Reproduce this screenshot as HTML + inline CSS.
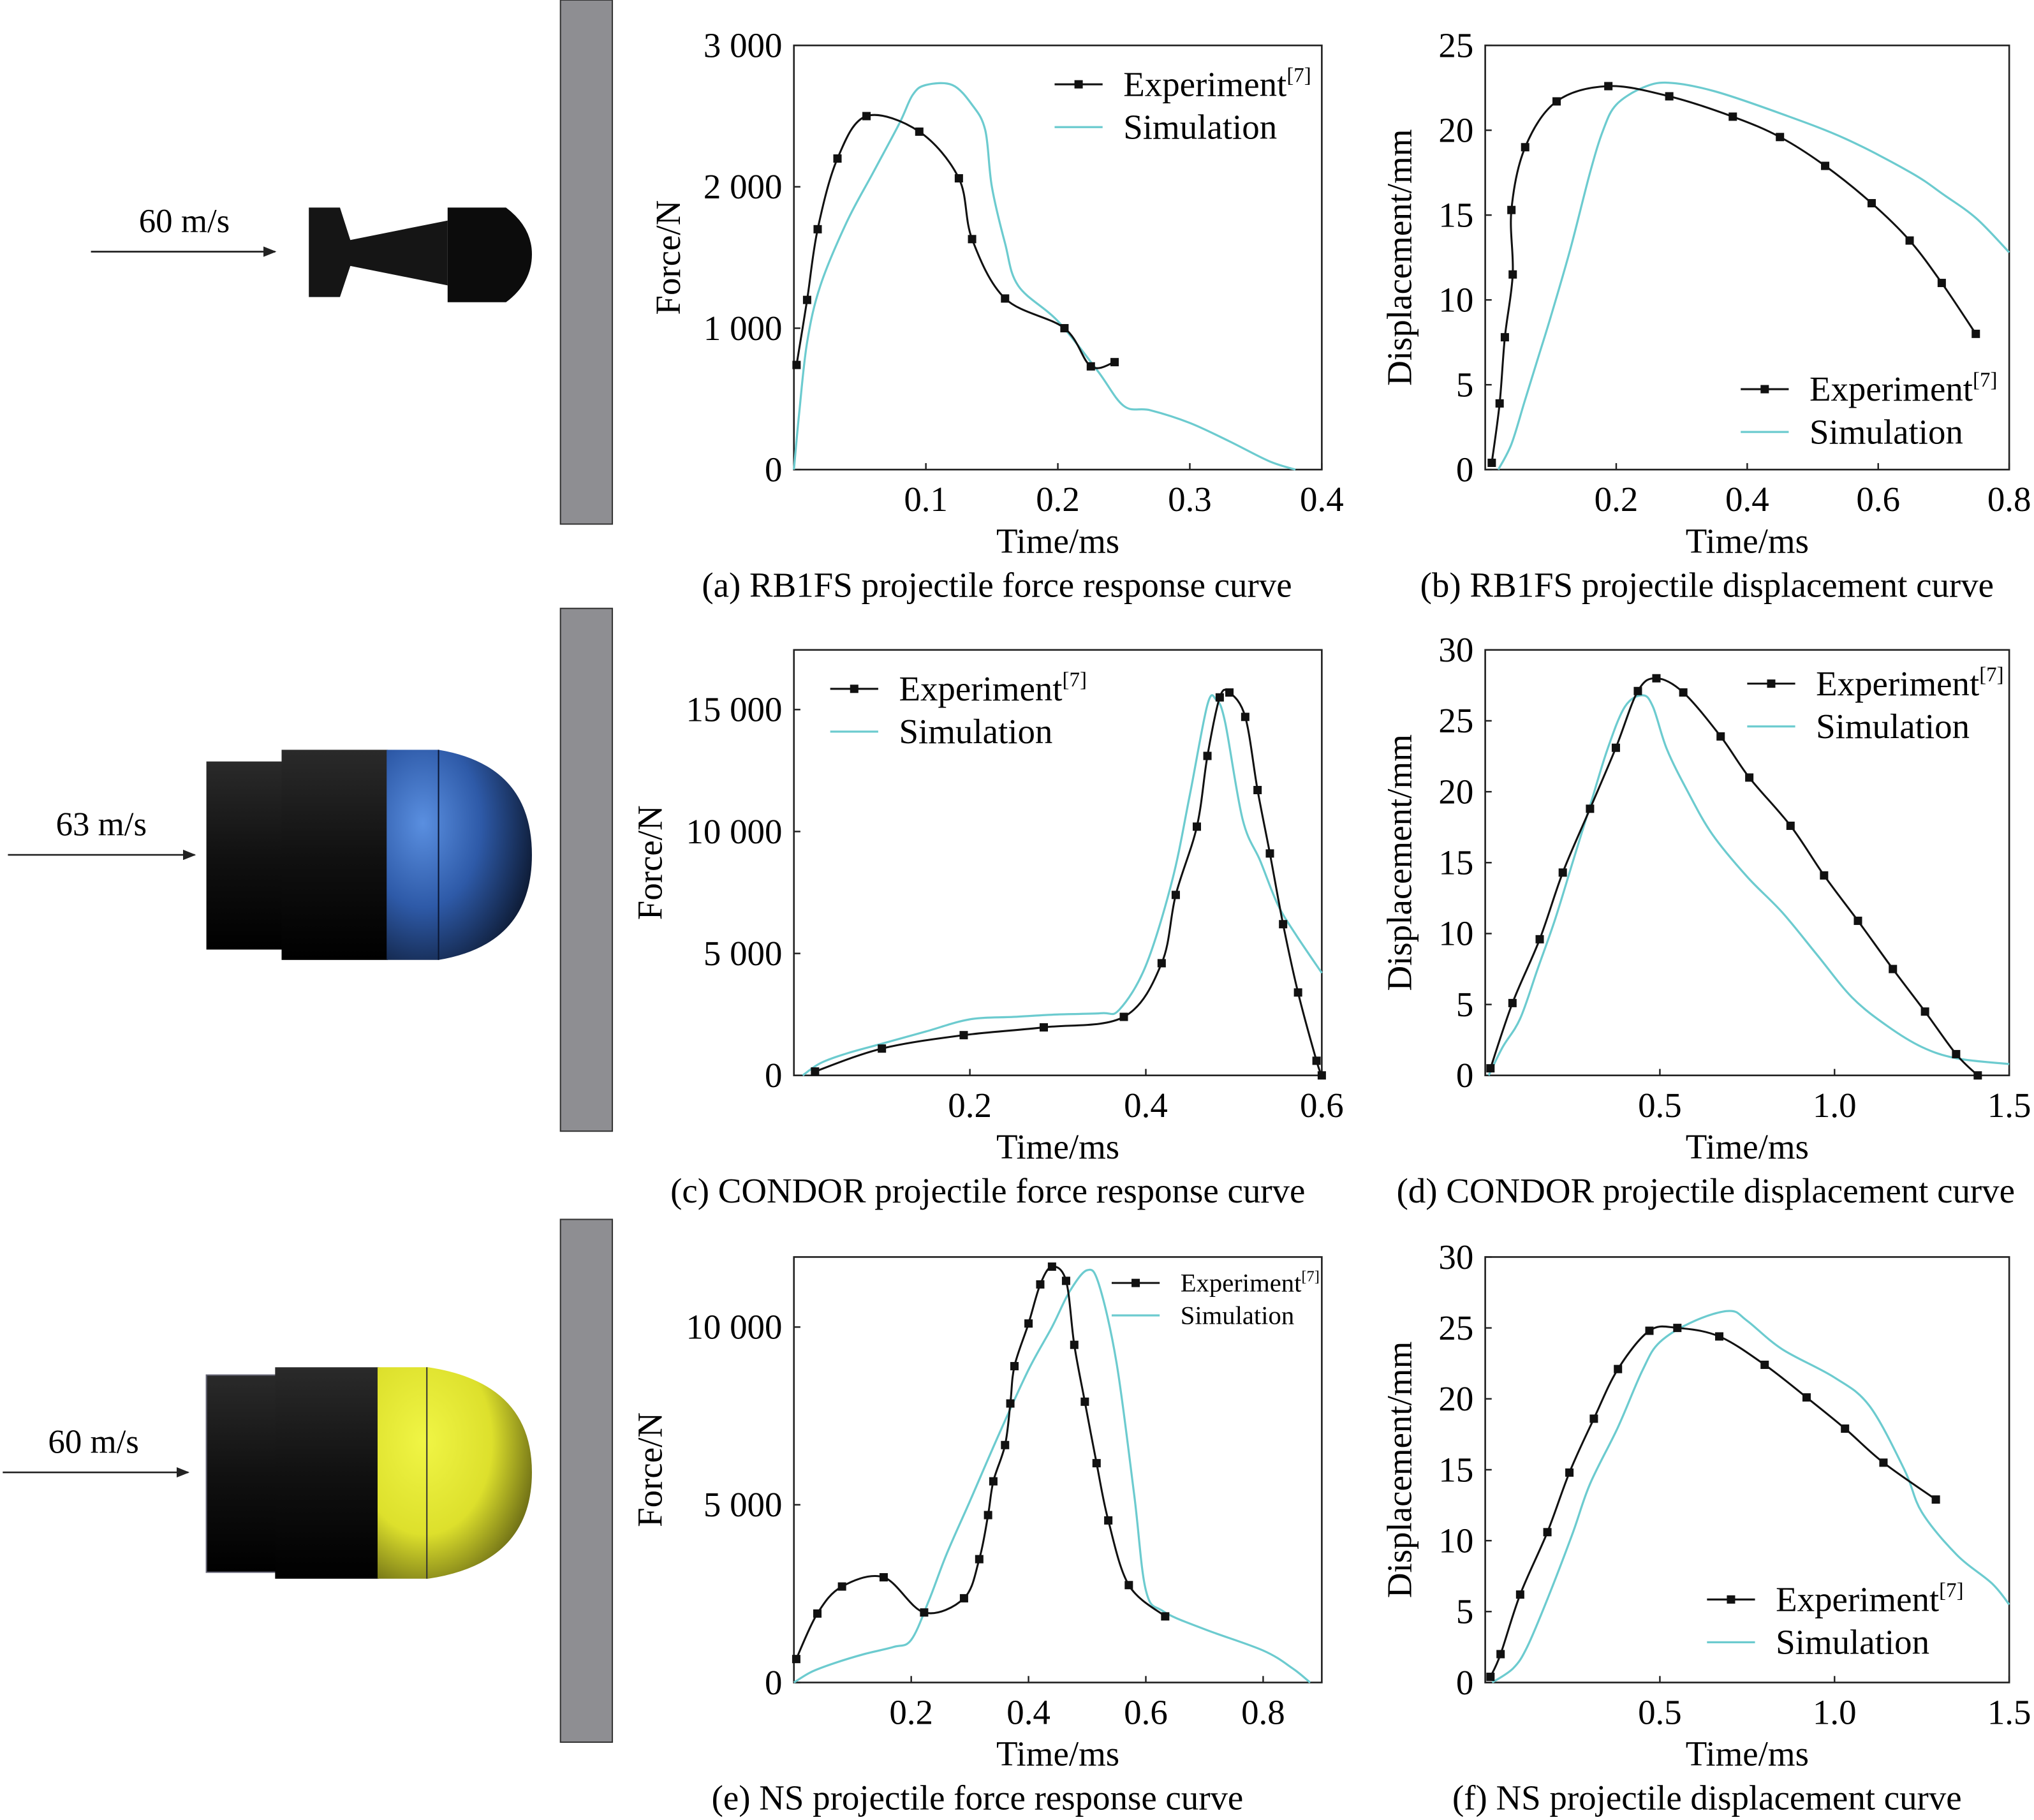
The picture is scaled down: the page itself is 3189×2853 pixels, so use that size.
<!DOCTYPE html>
<html><head><meta charset="utf-8"><style>
html,body{margin:0;padding:0;background:#fff;}
svg{display:block;font-family:"Liberation Serif",serif;}
</style></head><body>
<svg id="fig" width="3189" height="2853" viewBox="0 0 1568 1403" xmlns="http://www.w3.org/2000/svg">
<defs>
<marker id="arr" markerWidth="10" markerHeight="8" refX="9" refY="4" orient="auto" markerUnits="userSpaceOnUse"><path d="M0,0 L10,4 L0,8 z" fill="#222"/></marker>
<linearGradient id="gblack" x1="0" y1="0" x2="0" y2="1"><stop offset="0" stop-color="#2a2a2a"/><stop offset="0.5" stop-color="#111"/><stop offset="1" stop-color="#000"/></linearGradient>
<radialGradient id="gblue" cx="0.25" cy="0.35" r="0.8"><stop offset="0" stop-color="#5a8fe0"/><stop offset="0.5" stop-color="#2e5aa8"/><stop offset="1" stop-color="#0d1a33"/></radialGradient>
<radialGradient id="gyel" cx="0.3" cy="0.35" r="0.8"><stop offset="0" stop-color="#f0f545"/><stop offset="0.55" stop-color="#dde02c"/><stop offset="1" stop-color="#5a5a12"/></radialGradient>
</defs>
<g>
<rect x="432" y="0" width="40" height="404" fill="#8e8e92" stroke="#333" stroke-width="1"/>
<rect x="432" y="469" width="40" height="403" fill="#8e8e92" stroke="#333" stroke-width="1"/>
<rect x="432" y="940" width="40" height="403" fill="#8e8e92" stroke="#333" stroke-width="1"/>
<text x="142" y="179" font-size="26" text-anchor="middle">60 m/s</text>
<line x1="70" y1="194" x2="212" y2="194" stroke="#222" stroke-width="1.3" marker-end="url(#arr)"/>
<g>
<path d="M238,160 L262,160 L270,185 L345,170 L345,220 L270,205 L262,229 L238,229 z" fill="#151515"/>
<path d="M345,160 L390,160 Q410,175 410,196 Q410,218 390,233 L345,233 z" fill="#0c0c0c"/>
</g>
<text x="78" y="644" font-size="26" text-anchor="middle">63 m/s</text>
<line x1="6" y1="659" x2="150" y2="659" stroke="#222" stroke-width="1.3" marker-end="url(#arr)"/>
<g>
<rect x="159" y="587" width="60" height="145" fill="url(#gblack)"/>
<rect x="217" y="578" width="82" height="162" fill="url(#gblack)"/>
<path d="M298,578 L338,578 Q410,590 410,659 Q410,728 338,740 L298,740 z" fill="url(#gblue)"/>
<line x1="338" y1="578" x2="338" y2="740" stroke="#0a1530" stroke-width="1"/>
</g>
<text x="72" y="1120" font-size="26" text-anchor="middle">60 m/s</text>
<line x1="2" y1="1135" x2="145" y2="1135" stroke="#222" stroke-width="1.3" marker-end="url(#arr)"/>
<g>
<rect x="159" y="1060" width="55" height="152" fill="url(#gblack)" stroke="#667" stroke-width="1"/>
<rect x="212" y="1054" width="80" height="163" fill="url(#gblack)"/>
<path d="M291,1054 L330,1054 Q410,1066 410,1135 Q410,1205 330,1217 L291,1217 z" fill="url(#gyel)"/>
<line x1="329" y1="1054" x2="329" y2="1217" stroke="#333" stroke-width="1"/>
</g>
</g>
<g id="charts"></g>
</svg>
<script>
// ---- data ----
const aExpT=[0.002,0.01,0.018,0.033,0.055,0.095,0.125,0.135,0.16,0.205,0.225,0.243];
const aExpV=[740,1200,1700,2200,2500,2390,2060,1630,1210,1000,730,760];
const aSimT=[0,0.004,0.01,0.02,0.04,0.06,0.08,0.09,0.1,0.12,0.135,0.145,0.15,0.16,0.17,0.2,0.23,0.25,0.27,0.3,0.33,0.36,0.38];
const aSimV=[0,400,900,1300,1750,2100,2450,2650,2720,2720,2580,2400,2000,1600,1300,1050,700,450,420,330,200,60,0];
const bExpT=[0.01,0.022,0.03,0.042,0.04,0.061,0.109,0.188,0.281,0.378,0.45,0.519,0.59,0.648,0.697,0.749];
const bExpV=[0.4,3.9,7.8,11.5,15.3,19,21.7,22.6,22,20.8,19.6,17.9,15.7,13.5,11,8];
const bSimT=[0.02,0.04,0.06,0.08,0.1,0.13,0.16,0.18,0.2,0.24,0.28,0.35,0.45,0.55,0.65,0.7,0.75,0.8];
const bSimV=[0,1.5,4,6.5,9,13,17.5,20,21.5,22.5,22.8,22.3,21,19.5,17.5,16.2,14.8,12.8];
const cExpT=[0.024,0.1,0.193,0.284,0.375,0.418,0.434,0.458,0.47,0.484,0.495,0.513,0.527,0.541,0.556,0.573,0.594,0.6];
const cExpV=[160,1100,1650,1970,2400,4600,7400,10200,13100,15500,15700,14700,11700,9100,6200,3400,600,0];
const cSimT=[0.01,0.03,0.06,0.1,0.15,0.2,0.25,0.3,0.35,0.37,0.4,0.43,0.45,0.47,0.48,0.49,0.51,0.53,0.55,0.57,0.6];
const cSimV=[0,500,900,1300,1800,2300,2400,2500,2550,2700,4500,8000,11500,15200,15400,14500,10500,8800,7000,5800,4200];
const dExpT=[0.015,0.078,0.156,0.222,0.3,0.374,0.437,0.49,0.567,0.674,0.756,0.874,0.97,1.067,1.167,1.259,1.348,1.41];
const dExpV=[0.5,5.1,9.6,14.3,18.8,23.1,27.1,28,27,23.9,21,17.6,14.1,10.9,7.5,4.5,1.5,0];
const dSimT=[0.01,0.05,0.1,0.15,0.2,0.25,0.3,0.35,0.4,0.45,0.48,0.52,0.58,0.65,0.75,0.85,0.95,1.05,1.15,1.25,1.35,1.5];
const dSimV=[0,2,4,7.5,11,15,19,23,26,26.8,26,23,20,17,14,11.5,8.5,5.5,3.5,2,1.2,0.8];
const eExpT=[0.004,0.04,0.082,0.153,0.222,0.29,0.316,0.331,0.34,0.36,0.369,0.376,0.4,0.42,0.44,0.464,0.478,0.496,0.516,0.536,0.571,0.633];
const eExpV=[660,1940,2700,2960,1970,2370,3470,4710,5660,6680,7850,8900,10100,11200,11700,11300,9500,7900,6170,4560,2740,1860];
const eSimT=[0,0.03,0.07,0.12,0.17,0.2,0.23,0.26,0.3,0.35,0.4,0.44,0.47,0.5,0.52,0.55,0.58,0.6,0.63,0.7,0.8,0.85,0.88];
const eSimV=[0,300,550,800,1000,1200,2300,3600,5100,7000,8800,10000,11000,11600,11200,9000,5300,2600,2000,1500,900,400,0];
const fExpT=[0.015,0.044,0.1,0.178,0.241,0.311,0.38,0.47,0.55,0.67,0.8,0.92,1.03,1.14,1.29];
const fExpV=[0.4,2,6.2,10.6,14.8,18.6,22.1,24.8,25,24.4,22.4,20.1,17.9,15.5,12.9];
const fSimT=[0.02,0.08,0.12,0.18,0.25,0.3,0.38,0.45,0.5,0.6,0.7,0.75,0.85,1.0,1.1,1.2,1.25,1.35,1.45,1.5];
const fSimV=[0,1,2.5,6,10.5,14,18,22,24,25.5,26.2,25.5,23.5,21.5,19.5,15,12,9,7,5.5];
const aXTicks=[0.1,0.2,0.3,0.4], aXLabels=["0.1","0.2","0.3","0.4"];
const aYTicks=[0,1000,2000,3000], aYLabels=["0","1 000","2 000","3 000"];
const bXTicks=[0.2,0.4,0.6,0.8], bXLabels=["0.2","0.4","0.6","0.8"];
const bYTicks=[0,5,10,15,20,25], bYLabels=["0","5","10","15","20","25"];
const cXTicks=[0.2,0.4,0.6], cXLabels=["0.2","0.4","0.6"];
const cYTicks=[0,5000,10000,15000], cYLabels=["0","5 000","10 000","15 000"];
const dXTicks=[0.5,1.0,1.5], dXLabels=["0.5","1.0","1.5"];
const dYTicks=[0,5,10,15,20,25,30], dYLabels=["0","5","10","15","20","25","30"];
const eXTicks=[0.2,0.4,0.6,0.8], eXLabels=["0.2","0.4","0.6","0.8"];
const eYTicks=[0,5000,10000], eYLabels=["0","5 000","10 000"];
const fXTicks=[0.5,1.0,1.5], fXLabels=["0.5","1.0","1.5"];
const fYTicks=[0,5,10,15,20,25,30], fYLabels=["0","5","10","15","20","25","30"];

const FS=27;
const NS="http://www.w3.org/2000/svg";
const root=document.getElementById('charts');
function mk(tag,attrs,parent){const e=document.createElementNS(NS,tag);for(const k in attrs)e.setAttribute(k,attrs[k]);parent.appendChild(e);return e;}
function smooth(pts){let d="M"+pts[0][0].toFixed(2)+","+pts[0][1].toFixed(2);
 for(let i=0;i<pts.length-1;i++){const p0=pts[i-1]||pts[i],p1=pts[i],p2=pts[i+1],p3=pts[i+2]||p2;
  const c1=[p1[0]+(p2[0]-p0[0])/6,p1[1]+(p2[1]-p0[1])/6],c2=[p2[0]-(p3[0]-p1[0])/6,p2[1]-(p3[1]-p1[1])/6];
  d+=" C"+c1[0].toFixed(2)+","+c1[1].toFixed(2)+" "+c2[0].toFixed(2)+","+c2[1].toFixed(2)+" "+p2[0].toFixed(2)+","+p2[1].toFixed(2);}
 return d;}
function chart(o){
 const g=mk('g',{},root);
 
 
 const sx=v=>o.x0+(v-o.xmin)/(o.xmax-o.xmin)*(o.x1-o.x0);
 const sy=v=>o.y1-(v-o.ymin)/(o.ymax-o.ymin)*(o.y1-o.y0);
 const box=mk('rect',{x:o.x0,y:o.y0,width:o.x1-o.x0,height:o.y1-o.y0,fill:'none',stroke:'#222','stroke-width':1.3},g);
 
 
 o.xt.forEach((t,i)=>{const x=sx(t);
  const tk=mk('line',{x1:x,y1:o.y1,x2:x,y2:o.y1-5,stroke:'#222','stroke-width':1.2},g);
  
  
  const tl=mk('text',{x:x,y:o.y1+32,'font-size':FS,'text-anchor':'middle'},g);tl.textContent=o.xl[i];
  
  });
 o.yt.forEach((t,i)=>{const y=sy(t);
  const tk=mk('line',{x1:o.x0,y1:y,x2:o.x0+5,y2:y,stroke:'#222','stroke-width':1.2},g);
  
  
  const tl=mk('text',{x:o.x0-9,y:y+9,'font-size':FS,'text-anchor':'end'},g);tl.textContent=o.yl[i];
  
  });
 const xt=mk('text',{x:(o.x0+o.x1)/2,y:o.y1+64,'font-size':FS,'text-anchor':'middle'},g);xt.textContent='Time/ms';
 
 
 const yt=mk('text',{x:0,y:0,'font-size':FS,'text-anchor':'middle',transform:`translate(${o.ylx},${(o.y0+o.y1)/2}) rotate(-90)`},g);yt.textContent=o.ytitle;
 
 
 const cap=mk('text',{x:(o.x0+o.x1)/2+o.capdx,y:o.y1+98,'font-size':FS,'text-anchor':'middle'},g);cap.textContent=o.caption;
 
 
 const sp=o.simT.map((t,i)=>[sx(t),sy(o.simV[i])]);
 const s=mk('path',{d:smooth(sp),fill:'none',stroke:'#6ccbcf','stroke-width':1.6},g);
 
 
 const ep=o.expT.map((t,i)=>[sx(t),sy(o.expV[i])]);
 const e=mk('path',{d:smooth(ep),fill:'none',stroke:'#111','stroke-width':1.5},g);
 
 
 ep.forEach(p=>{const m=mk('rect',{x:p[0]-3.2,y:p[1]-3.2,width:6.4,height:6.4,fill:'#111'},g);
  
  });
 const L=o.leg, fs=L.fs||FS, gap=L.gap||33;
 const lg=mk('g',{},g);
 
 
 mk('line',{x1:L.x,y1:L.y,x2:L.x+37,y2:L.y,stroke:'#111','stroke-width':1.5},lg);
 mk('rect',{x:L.x+15.3,y:L.y-3.2,width:6.4,height:6.4,fill:'#111'},lg);
 const t1=mk('text',{x:L.x+53,y:L.y+fs*0.33,'font-size':fs},lg);
 t1.innerHTML='Experiment<tspan font-size="'+(fs*0.6)+'" dy="'+(-fs*0.4)+'">[7]</tspan>';
 
 
 mk('line',{x1:L.x,y1:L.y+gap,x2:L.x+37,y2:L.y+gap,stroke:'#6ccbcf','stroke-width':1.6},lg);
 const t2=mk('text',{x:L.x+53,y:L.y+gap+fs*0.33,'font-size':fs},lg);t2.textContent='Simulation';
 
 
}
chart({name:'chart-a',x0:612,x1:1019,y0:35,y1:362,xmin:0,xmax:0.4,ymin:0,ymax:3000,xt:aXTicks,xl:aXLabels,yt:aYTicks,yl:aYLabels,ytitle:'Force/N',ylx:524,caption:'(a) RB1FS projectile force response curve',capdx:-47,expT:aExpT,expV:aExpV,simT:aSimT,simV:aSimV,leg:{x:813,y:65}});
chart({name:'chart-b',x0:1145,x1:1549,y0:35,y1:362,xmin:0,xmax:0.8,ymin:0,ymax:25,xt:bXTicks,xl:bXLabels,yt:bYTicks,yl:bYLabels,ytitle:'Displacement/mm',ylx:1088,caption:'(b) RB1FS projectile displacement curve',capdx:-31,expT:bExpT,expV:bExpV,simT:bSimT,simV:bSimV,leg:{x:1342,y:300}});
chart({name:'chart-c',x0:612,x1:1019,y0:501,y1:829,xmin:0,xmax:0.6,ymin:0,ymax:17447,xt:cXTicks,xl:cXLabels,yt:cYTicks,yl:cYLabels,ytitle:'Force/N',ylx:510,caption:'(c) CONDOR projectile force response curve',capdx:-54,expT:cExpT,expV:cExpV,simT:cSimT,simV:cSimV,leg:{x:640,y:531}});
chart({name:'chart-d',x0:1145,x1:1549,y0:501,y1:829,xmin:0,xmax:1.5,ymin:0,ymax:30,xt:dXTicks,xl:dXLabels,yt:dYTicks,yl:dYLabels,ytitle:'Displacement/mm',ylx:1088,caption:'(d) CONDOR projectile displacement curve',capdx:-32,expT:dExpT,expV:dExpV,simT:dSimT,simV:dSimV,leg:{x:1347,y:527}});
chart({name:'chart-e',x0:612,x1:1019,y0:969,y1:1297,xmin:0,xmax:0.9,ymin:0,ymax:11971,xt:eXTicks,xl:eXLabels,yt:eYTicks,yl:eYLabels,ytitle:'Force/N',ylx:510,caption:'(e) NS projectile force response curve',capdx:-62,expT:eExpT,expV:eExpV,simT:eSimT,simV:eSimV,leg:{x:857,y:989,fs:20,gap:25}});
chart({name:'chart-f',x0:1145,x1:1549,y0:969,y1:1297,xmin:0,xmax:1.5,ymin:0,ymax:30,xt:fXTicks,xl:fXLabels,yt:fYTicks,yl:fYLabels,ytitle:'Displacement/mm',ylx:1088,caption:'(f) NS projectile displacement curve',capdx:-31,expT:fExpT,expV:fExpV,simT:fSimT,simV:fSimV,leg:{x:1316,y:1233}});
</script>
</body></html>
